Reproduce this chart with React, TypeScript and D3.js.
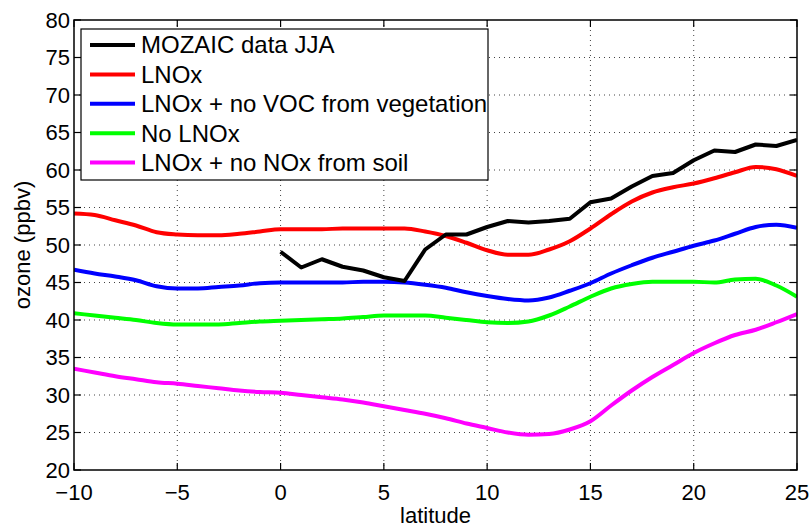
import React from "react";
import * as d3 from "d3";

const latitudes: number[] = d3.range(-10, 26);
const mozaicLat: number[] = d3.range(0, 26);
const mozaic: number[] = [49.1, 47.0, 48.1, 47.1, 46.6, 45.7, 45.2, 49.4, 51.4, 51.4, 52.4, 53.2, 53.0, 53.2, 53.5, 55.7, 56.2, 57.8, 59.2, 59.6, 61.3, 62.6, 62.4, 63.4, 63.2, 64.0];
const lnox: number[] = [54.2, 54.0, 53.3, 52.6, 51.7, 51.4, 51.3, 51.3, 51.5, 51.8, 52.1, 52.1, 52.1, 52.2, 52.2, 52.2, 52.2, 51.8, 51.2, 50.3, 49.3, 48.7, 48.7, 49.4, 50.5, 52.2, 54.1, 55.8, 57.0, 57.7, 58.2, 58.9, 59.7, 60.4, 60.1, 59.2];
const lnoxNoVoc: number[] = [46.7, 46.2, 45.8, 45.3, 44.5, 44.2, 44.2, 44.4, 44.6, 44.9, 45.0, 45.0, 45.0, 45.0, 45.1, 45.1, 45.0, 44.7, 44.3, 43.7, 43.2, 42.8, 42.6, 43.0, 43.9, 44.9, 46.2, 47.3, 48.3, 49.1, 49.9, 50.6, 51.5, 52.4, 52.7, 52.3];
const noLnox: number[] = [40.9, 40.6, 40.3, 40.0, 39.6, 39.4, 39.4, 39.4, 39.6, 39.8, 39.9, 40.0, 40.1, 40.2, 40.4, 40.6, 40.6, 40.6, 40.3, 40.0, 39.7, 39.6, 39.8, 40.6, 41.8, 43.1, 44.2, 44.8, 45.1, 45.1, 45.1, 45.0, 45.4, 45.5, 44.6, 43.1];
const lnoxNoSoil: number[] = [33.5, 33.0, 32.5, 32.1, 31.7, 31.5, 31.2, 30.9, 30.6, 30.4, 30.3, 30.0, 29.7, 29.4, 29.0, 28.5, 28.0, 27.5, 26.9, 26.2, 25.6, 25.0, 24.7, 24.8, 25.4, 26.5, 28.6, 30.6, 32.4, 34.0, 35.6, 36.9, 38.0, 38.7, 39.7, 40.8];

const seriesNames: string[] = ["MOZAIC data JJA", "LNOx", "LNOx + no VOC from vegetation", "No LNOx", "LNOx + no NOx from soil"];
const seriesColors: string[] = ["#000000", "#ff0000", "#0000ff", "#00ff00", "#ff00ff"];
const xTicks: number[] = [-10, -5, 0, 5, 10, 15, 20, 25];
const yTicks: number[] = [20, 25, 30, 35, 40, 45, 50, 55, 60, 65, 70, 75, 80];
const xLabel = "latitude";
const yLabel = "ozone (ppbv)";

const W = 812, H = 527;
const left = 74, right = 797, top = 20, bottom = 470;
const FONT = "'Liberation Sans', Arial, Helvetica, sans-serif";

export default function App() {
  const x = d3.scaleLinear().domain([-10, 25]).range([left, right]);
  const y = d3.scaleLinear().domain([20, 80]).range([bottom, top]);

  const data: { xs: number[]; ys: number[] }[] = [
    { xs: mozaicLat, ys: mozaic },
    { xs: latitudes, ys: lnox },
    { xs: latitudes, ys: lnoxNoVoc },
    { xs: latitudes, ys: noLnox },
    { xs: latitudes, ys: lnoxNoSoil },
  ];

  const drawOrder = [4, 3, 2, 1, 0];
  const fmt = (v: number) => (v < 0 ? "\u2212" + Math.abs(v) : String(v));
  const tickLen = 7;

  const legX = 81, legY = 29, legW = 407, legH = 151;
  const legRowY = (i: number) => 45 + i * 29.4;

  return (
    <svg width={W} height={H} style={{ position: "fixed", left: 0, top: 0, background: "#fff" }} fontFamily={FONT}>
      <rect x={0} y={0} width={W} height={H} fill="#fff" />
      {/* grid */}
      <g stroke="#444" strokeWidth={1} strokeDasharray="1,4">
        {xTicks.filter((t) => t > -10 && t < 25).map((t) => (
          <line key={"gx" + t} x1={x(t)} x2={x(t)} y1={top} y2={bottom} />
        ))}
        {yTicks.filter((t) => t > 20 && t < 80).map((t) => (
          <line key={"gy" + t} x1={left} x2={right} y1={y(t)} y2={y(t)} />
        ))}
      </g>
      {/* series */}
      <defs>
        <clipPath id="plotclip">
          <rect x={left} y={top} width={right - left} height={bottom - top} />
        </clipPath>
      </defs>
      <g clipPath="url(#plotclip)">
        {drawOrder.map((i) => {
          const d = data[i];
          const gen = d3
            .line<number>()
            .x((_, k) => x(d.xs[k]))
            .y((v) => y(v))
            .curve(i === 0 ? d3.curveLinear : d3.curveMonotoneX);
          return (
            <path key={"s" + i} d={gen(d.ys) || ""} fill="none" stroke={seriesColors[i]} strokeWidth={4} strokeLinejoin="round" />
          );
        })}
      </g>
      {/* axes box and ticks */}
      <rect x={left} y={top} width={right - left} height={bottom - top} fill="none" stroke="#000" strokeWidth={1.5} />
      <g stroke="#000" strokeWidth={1.2}>
        {xTicks.map((t) => (
          <g key={"tx" + t}>
            <line x1={x(t)} x2={x(t)} y1={bottom} y2={bottom - tickLen} />
            <line x1={x(t)} x2={x(t)} y1={top} y2={top + tickLen} />
          </g>
        ))}
        {yTicks.map((t) => (
          <g key={"ty" + t}>
            <line x1={left} x2={left + tickLen} y1={y(t)} y2={y(t)} />
            <line x1={right} x2={right - tickLen} y1={y(t)} y2={y(t)} />
          </g>
        ))}
      </g>
      {/* tick labels */}
      <g fontSize={22} fill="#000">
        {xTicks.map((t) => (
          <text key={"lx" + t} x={x(t)} y={500} textAnchor="middle">{fmt(t)}</text>
        ))}
        {yTicks.map((t) => (
          <text key={"ly" + t} x={70} y={y(t)} textAnchor="end" dominantBaseline="central">{fmt(t)}</text>
        ))}
      </g>
      {/* axis labels */}
      <text x={(left + right) / 2} y={523} textAnchor="middle" fontSize={22} fill="#000">{xLabel}</text>
      <text transform={`translate(30, ${(top + bottom) / 2}) rotate(-90)`} textAnchor="middle" fontSize={22} fill="#000">{yLabel}</text>
      {/* legend */}
      <rect x={legX} y={legY} width={legW} height={legH} fill="#fff" stroke="#000" strokeWidth={1.2} />
      {seriesNames.map((name, i) => (
        <g key={"leg" + i}>
          <line x1={90} x2={135} y1={legRowY(i)} y2={legRowY(i)} stroke={seriesColors[i]} strokeWidth={4} />
          <text x={141} y={legRowY(i)} dy="0.35em" fontSize={24} fill="#000">{name}</text>
        </g>
      ))}
    </svg>
  );
}
